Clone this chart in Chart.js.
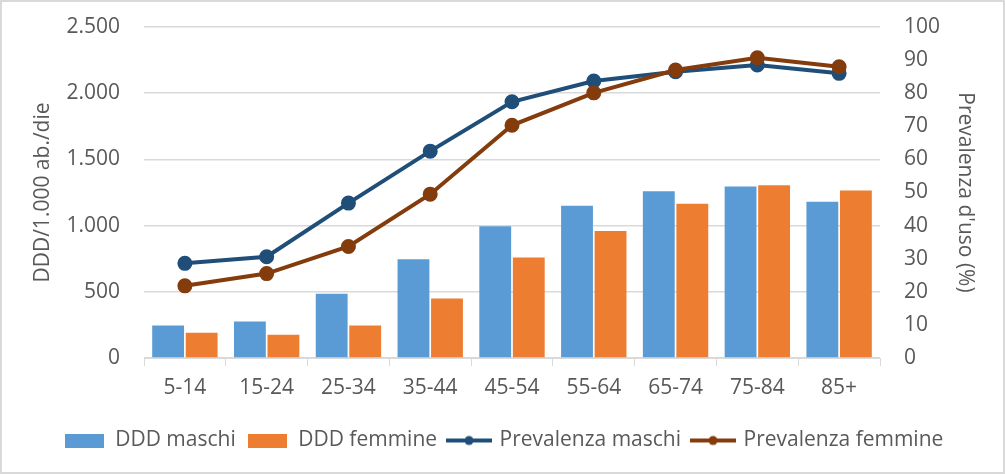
<!DOCTYPE html>
<html>
<head>
<meta charset="utf-8">
<script src="https://cdn.jsdelivr.net/npm/chart.js@4"></script>
<style>
  body { margin: 0; background: #fff; }
  #wrap { width: 1005px; height: 474px; box-sizing: border-box; border: 2px solid #d9d9d9; background: #fff; }
</style>
</head>
<body>
<div id="wrap"><canvas id="chart"></canvas></div>
<script>
const ageGroups = ['5-14', '15-24', '25-34', '35-44', '45-54', '55-64', '65-74', '75-84', '85+'];
const dddMaschi = [245, 275, 485, 745, 995, 1150, 1260, 1295, 1180];
const dddFemmine = [190, 175, 245, 450, 760, 960, 1165, 1305, 1265];
const prevMaschi = [28.6, 30.6, 46.8, 62.5, 77.4, 83.7, 86.5, 88.5, 86.0];
const prevFemmine = [21.8, 25.5, 33.7, 49.5, 70.3, 80.1, 87.0, 90.7, 88.0];

const txt = '#595959';
const gridCol = '#d9d9d9';
const font = "'Open Sans', sans-serif";

// thousands with a dot, Italian style
function fmt(v) {
  return String(v).replace(/\B(?=(\d{3})+(?!\d))/g, '.');
}

// little line+dot swatch for the legend
function lineSwatch(color) {
  const c = document.createElement('canvas');
  c.width = 46; c.height = 14;
  const g = c.getContext('2d');
  g.strokeStyle = color; g.lineWidth = 4;
  g.beginPath(); g.moveTo(0, 7); g.lineTo(46, 7); g.stroke();
  g.fillStyle = color;
  g.beginPath(); g.arc(23, 7, 4.5, 0, Math.PI * 2); g.fill();
  return c;
}
function boxSwatch(color) {
  const c = document.createElement('canvas');
  c.width = 39; c.height = 14;
  const g = c.getContext('2d');
  g.fillStyle = color; g.fillRect(0, 0, 39, 14);
  return c;
}

// y axes: fixed width, and less head room than ticks.padding would give
function fitY(width) {
  return s => { s.width = width; s.paddingTop = 25; };
}

const ctx = document.getElementById('chart').getContext('2d');
new Chart(ctx, {
  type: 'bar',
  data: {
    labels: ageGroups,
    datasets: [
      { label: 'DDD maschi', data: dddMaschi, yAxisID: 'y', backgroundColor: '#5b9bd5',
        order: 2, swatch: boxSwatch('#5b9bd5') },
      { label: 'DDD femmine', data: dddFemmine, yAxisID: 'y', backgroundColor: '#ed7d31',
        order: 3, swatch: boxSwatch('#ed7d31') },
      { label: 'Prevalenza maschi', type: 'line', data: prevMaschi, yAxisID: 'y1',
        borderColor: '#1f4e79', backgroundColor: '#1f4e79', borderWidth: 4,
        pointRadius: 5.5, pointHoverRadius: 5.5, order: 1, swatch: lineSwatch('#1f4e79') },
      { label: 'Prevalenza femmine', type: 'line', data: prevFemmine, yAxisID: 'y1',
        borderColor: '#843c0c', backgroundColor: '#843c0c', borderWidth: 4,
        pointRadius: 5.5, pointHoverRadius: 5.5, order: 0, swatch: lineSwatch('#843c0c') }
    ]
  },
  options: {
    responsive: true,
    maintainAspectRatio: false,
    animation: false,
    categoryPercentage: 0.82,
    barPercentage: 0.95,
    layout: { padding: { top: 4, right: 21, left: 24, bottom: 11 } },
    plugins: {
      tooltip: { enabled: false },
      legend: {
        position: 'bottom',
        labels: {
          usePointStyle: true,
          pointStyleWidth: 40,
          color: txt,
          font: { family: font, size: 21 },
          padding: 12,
          generateLabels(chart) {
            return chart.data.datasets.map((ds, i) => ({
              text: ds.label, pointStyle: ds.swatch, fontColor: txt,
              datasetIndex: i, hidden: false, lineWidth: 0, strokeStyle: 'transparent'
            }));
          }
        }
      }
    },
    scales: {
      x: {
        grid: { offset: true, drawOnChartArea: false, color: gridCol, tickLength: 8, tickColor: gridCol },
        border: { color: gridCol, width: 1 },
        ticks: { color: txt, font: { family: font, size: 21 }, padding: 9 },
        afterFit: s => { s.height = 60; }
      },
      y: {
        position: 'left', min: 0, max: 2500,
        grid: { color: gridCol, lineWidth: 1.5, drawTicks: false },
        border: { display: false },
        ticks: { stepSize: 500, color: txt, font: { family: font, size: 21 }, padding: 24,
                 callback: v => fmt(v) },
        title: { display: true, text: 'DDD/1.000 ab./die', color: txt,
                 font: { family: font, size: 21 }, padding: { top: 4, bottom: 0 } },
        afterFit: fitY(118)
      },
      y1: {
        position: 'right', min: 0, max: 100,
        grid: { drawOnChartArea: false, drawTicks: false },
        border: { display: false },
        ticks: { stepSize: 10, color: txt, font: { family: font, size: 21 }, padding: 24 },
        title: { display: true, text: "Prevalenza d'uso (%)", color: txt,
                 font: { family: font, size: 21 }, padding: { top: 4, bottom: 0 } },
        afterFit: fitY(102)
      }
    }
  }
});
</script>
</body>
</html>
